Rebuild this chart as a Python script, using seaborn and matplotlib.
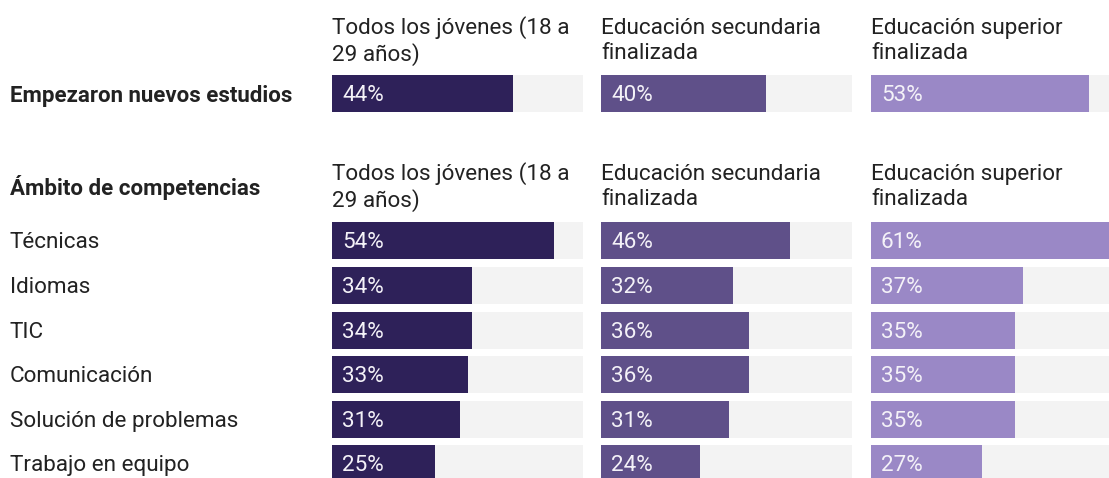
import matplotlib
matplotlib.use("Agg")
import matplotlib.pyplot as plt
import matplotlib.transforms as mtransforms
import seaborn as sns

# ---- data ----
groups = ["Todos los jóvenes (18 a\n29 años)", "Educación secundaria\nfinalizada", "Educación superior\nfinalizada"]
top_label = "Empezaron nuevos estudios"
top_values = [44, 40, 53]
section_label = "Ámbito de competencias"
skills = ["Técnicas", "Idiomas", "TIC", "Comunicación", "Solución de problemas", "Trabajo en equipo"]
all_youth = [54, 34, 34, 33, 31, 25]
secondary = [46, 32, 36, 36, 31, 24]
tertiary = [61, 37, 35, 35, 35, 27]
skill_values = [all_youth, secondary, tertiary]

# ---- style ----
sns.set_theme(style="white")
plt.rcParams["font.family"] = ["Roboto", "DejaVu Sans"]
colors = ["#2e2159", "#5f5089", "#9a88c6"]
bg_color = "#f3f3f3"
text_color = "#222222"
FS = 16.2
FSB = 16.0

W, H = 1109, 478
fig = plt.figure(figsize=(W / 100, H / 100), dpi=100)
fig.patch.set_facecolor("white")

col_x = [332, 601, 871]
col_w = 251
pitch = 44.6
bar_frac = 0.83
vmax = max(max(top_values), max(max(v) for v in skill_values))


def add_ax(x0, y_top, n):
    h = n * pitch
    return fig.add_axes([x0 / W, 1 - (y_top + h) / H, col_w / W, h / H])


def draw(ax, cats, vals, color):
    sns.barplot(x=[vmax] * len(cats), y=cats, color=bg_color, width=bar_frac,
                ax=ax, saturation=1, linewidth=0)
    sns.barplot(x=vals, y=cats, color=color, width=bar_frac, ax=ax,
                saturation=1, linewidth=0)
    ax.set_xlim(0, vmax)
    ax.set_axis_off()
    for i, v in enumerate(vals):
        ax.annotate(f"{v}%", xy=(0, i), xytext=(10, -2), textcoords="offset pixels",
                    ha="left", va="center", color="#f4f2f8", fontsize=FS)


top_y = 75 - (pitch * (1 - bar_frac)) / 2
bot_y = 222.3 - (pitch * (1 - bar_frac)) / 2

top_axes = []
bot_axes = []
for i in range(3):
    ax = add_ax(col_x[i], top_y, 1)
    draw(ax, [top_label], [top_values[i]], colors[i])
    top_axes.append(ax)
    ax2 = add_ax(col_x[i], bot_y, len(skills))
    draw(ax2, skills, skill_values[i], colors[i])
    bot_axes.append(ax2)
    # headers
    fig.text(col_x[i] / W, 1 - 41 / H, groups[i], ha="left", va="center",
             fontsize=FS, color=text_color, linespacing=1.27)
    fig.text(col_x[i] / W, 1 - 187 / H, groups[i], ha="left", va="center",
             fontsize=FS, color=text_color, linespacing=1.27)

# row labels
tr = mtransforms.blended_transform_factory(fig.transFigure, top_axes[0].transData)
top_axes[0].annotate(top_label, xy=(10 / W, 0), xycoords=tr, xytext=(0, -2),
                     textcoords="offset pixels", ha="left", va="center",
                     fontsize=FSB, fontweight="bold", color=text_color)
tr2 = mtransforms.blended_transform_factory(fig.transFigure, bot_axes[0].transData)
for j, s in enumerate(skills):
    bot_axes[0].annotate(s, xy=(10 / W, j), xycoords=tr2, xytext=(0, -2),
                         textcoords="offset pixels", ha="left", va="center",
                         fontsize=FS, color=text_color, annotation_clip=False)
fig.text(10 / W, 1 - 188 / H, section_label, ha="left", va="center",
         fontsize=FSB, fontweight="bold", color=text_color)

fig.savefig("out.png", dpi=100)
